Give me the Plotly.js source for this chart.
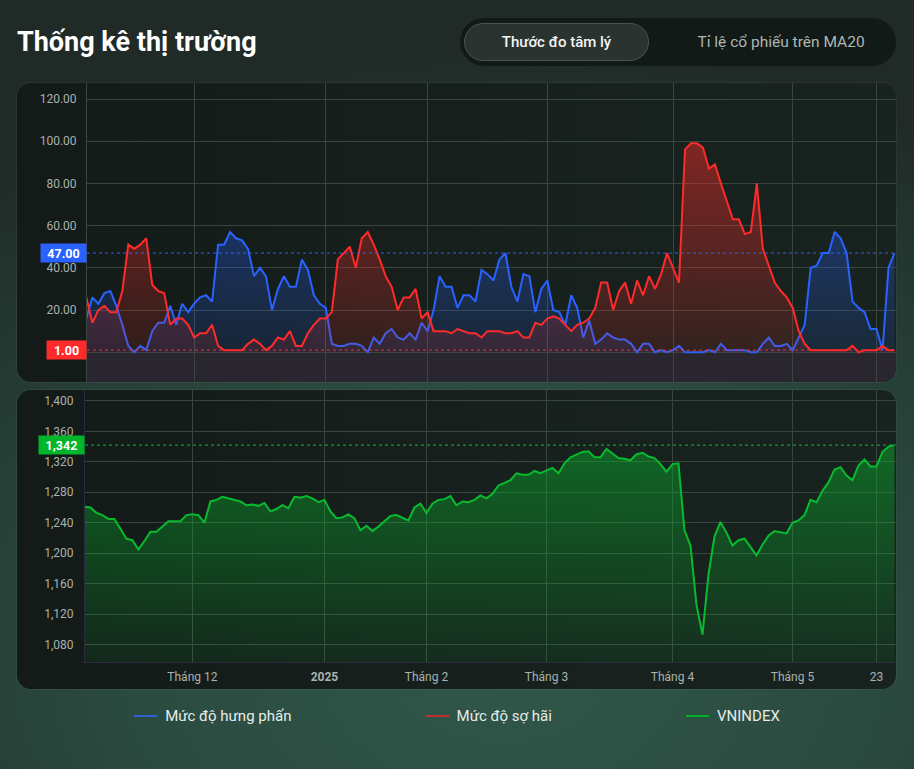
<!DOCTYPE html>
<html>
<head>
<meta charset="utf-8">
<script src="https://cdn.plot.ly/plotly-3.0.1.min.js"></script>
<style>
  html, body { margin:0; padding:0; }
  body {
    width:914px; height:769px; overflow:hidden; position:relative;
    font-family: Roboto, "Noto Sans", sans-serif;
    background: radial-gradient(ellipse 90% 80% at 55% 85%, #30574a 0%, #2b4b40 45%, #243a33 75%, #202a26 100%);
  }
  #title { position:absolute; left:17px; top:26px; font-size:27px; font-weight:700; color:#ffffff; white-space:nowrap; }
  #tabs { position:absolute; left:460px; top:18px; width:436px; height:48px; border-radius:24px; background:#121a17; }
  .tab { position:absolute; top:5px; height:38px; line-height:38px; font-size:15px; text-align:center; border-radius:20px; box-sizing:border-box; white-space:nowrap; }
  #tab1 { left:4px; width:185px; background:#2b3330; border:1px solid #4b5451; color:#f2f5f4; font-weight:500; line-height:36px; }
  #tab2 { left:203px; width:236px; color:#aeb7b3; font-size:15.5px; }
  .panel { position:absolute; left:17px; width:879px; height:299px; border-radius:14px; overflow:hidden;
    background: linear-gradient(90deg, #131a18 0%, #161f1c 40%, #18231f 100%); box-shadow: 0 0 0 1px rgba(255,255,255,0.05); }
  #p1 { top:83px; }
  #p2 { top:390px; }
  #legend { position:absolute; left:0; top:706px; width:914px; height:20px; display:flex; justify-content:space-evenly; align-items:center; }
  .li { display:flex; align-items:center; color:#e6ecea; font-size:15px; }
  .sw { width:23px; height:2px; margin-right:8px; }
</style>
</head>
<body>
<div id="title">Thống kê thị trường</div>
<div id="tabs"><div class="tab" id="tab1">Thước đo tâm lý</div><div class="tab" id="tab2">Tỉ lệ cổ phiếu trên MA20</div></div>
<div class="panel" id="p1"><div id="c1"></div></div>
<div class="panel" id="p2"><div id="c2"></div></div>
<div id="legend">
  <div class="li"><div class="sw" style="background:#2f60d6"></div>Mức độ hưng phấn</div>
  <div class="li"><div class="sw" style="background:#c03030"></div>Mức độ sợ hãi</div>
  <div class="li"><div class="sw" style="background:#00b02c"></div>VNINDEX</div>
</div>
<script>
const dates = [
 '2024-11-06','2024-11-07','2024-11-08','2024-11-11','2024-11-12','2024-11-13','2024-11-14','2024-11-15',
 '2024-11-18','2024-11-19','2024-11-20','2024-11-21','2024-11-22','2024-11-25','2024-11-26','2024-11-27','2024-11-28','2024-11-29',
 '2024-12-02','2024-12-03','2024-12-04','2024-12-05','2024-12-06','2024-12-09','2024-12-10','2024-12-11','2024-12-12','2024-12-13',
 '2024-12-16','2024-12-17','2024-12-18','2024-12-19','2024-12-20','2024-12-23','2024-12-24','2024-12-25','2024-12-26','2024-12-27',
 '2024-12-30','2024-12-31',
 '2025-01-02','2025-01-03','2025-01-06','2025-01-07','2025-01-08','2025-01-09','2025-01-10','2025-01-13','2025-01-14','2025-01-15',
 '2025-01-16','2025-01-17','2025-01-20','2025-01-21','2025-01-22','2025-01-23','2025-01-24',
 '2025-02-03','2025-02-04','2025-02-05','2025-02-06','2025-02-07','2025-02-10','2025-02-11','2025-02-12','2025-02-13','2025-02-14',
 '2025-02-17','2025-02-18','2025-02-19','2025-02-20','2025-02-21','2025-02-24','2025-02-25','2025-02-26','2025-02-27','2025-02-28',
 '2025-03-03','2025-03-04','2025-03-05','2025-03-06','2025-03-07','2025-03-10','2025-03-11','2025-03-12','2025-03-13','2025-03-14',
 '2025-03-17','2025-03-18','2025-03-19','2025-03-20','2025-03-21','2025-03-24','2025-03-25','2025-03-26','2025-03-27','2025-03-28',
 '2025-03-31',
 '2025-04-01','2025-04-02','2025-04-03','2025-04-04','2025-04-08','2025-04-09','2025-04-10','2025-04-11','2025-04-14','2025-04-15',
 '2025-04-16','2025-04-17','2025-04-18','2025-04-21','2025-04-22','2025-04-23','2025-04-24','2025-04-25','2025-04-28','2025-04-29',
 '2025-05-05','2025-05-06','2025-05-07','2025-05-08','2025-05-09','2025-05-12','2025-05-13','2025-05-14','2025-05-15','2025-05-16',
 '2025-05-19','2025-05-20','2025-05-21','2025-05-22','2025-05-23','2025-05-26','2025-05-27','2025-05-28'
];
const euphoria = [
 16,26,23,28,29,22,13,3,0,3,
 1,10,14,14,22,13,23,19,23,26,
 27,24,51,51,57,54,53,49,36,40,
 36,20,30,36,31,31,44,39,27,23,
 21,4,3,3,4,4,3,0,7,4,
 9,11,7,6,9,6,14,10,20,36,
 31,31,21,27,27,24,39,37,34,44,
 47,31,24,37,36,19,30,34,20,19,
 13,27,21,7,15,4,6,9,7,6,
 6,4,0,4,4,0,1,0,1,3,
 0,0,0,0,1,0,4,1,1,1,
 1,0,0,4,7,3,3,4,1,7,
 13,40,41,47,47,57,54,47,24,21,
 19,11,11,1,40,47
];
const fear = [
 26,14,20,22,19,19,29,51,49,51,
 54,32,29,28,13,16,16,13,7,9,
 9,13,3,1,1,1,1,4,6,4,
 1,3,7,6,10,3,3,9,13,16,
 16,19,44,47,50,40,54,57,51,44,
 36,31,20,26,26,30,16,19,10,10,
 10,9,11,10,9,9,7,10,10,10,
 9,9,10,7,7,14,13,16,17,16,
 13,10,13,14,16,21,33,33,20,29,
 33,23,34,27,36,30,37,47,40,33,
 96,99,99,97,87,89,80,72,63,63,
 56,57,80,49,41,33,29,26,21,10,
 4,1,1,1,1,1,1,1,3,0,
 1,1,1,3,1,1
];
const vnindex = [
 1261,1260,1253,1250,1245,1245,1232,1219,1217,1205,
 1216,1228,1228,1235,1242,1242,1242,1250,1251,1250,
 1240,1268,1270,1274,1272,1270,1268,1263,1264,1262,
 1266,1255,1258,1263,1259,1274,1273,1275,1272,1267,
 1270,1255,1246,1247,1251,1246,1230,1236,1229,1235,
 1242,1249,1250,1246,1243,1260,1265,1253,1265,1270,
 1271,1275,1263,1268,1267,1270,1276,1272,1278,1289,
 1293,1296,1305,1303,1303,1308,1305,1309,1312,1305,
 1318,1326,1330,1333,1334,1326,1326,1337,1331,1325,
 1324,1322,1330,1332,1327,1325,1317,1307,1317,1318,
 1230,1210,1132,1093,1172,1222,1241,1227,1210,1217,
 1219,1208,1197,1211,1223,1229,1227,1226,1240,1243,
 1250,1270,1267,1282,1293,1310,1313,1302,1296,1315,
 1323,1314,1314,1333,1340,1342
];
const tickDates = ['2024-12-02','2025-01-02','2025-02-03','2025-03-03','2025-04-01','2025-05-05','2025-05-23'];
const tickLabels = ['Tháng 12','<b>2025</b>','Tháng 2','Tháng 3','Tháng 4','Tháng 5','23'];
const topTicks = [0,20,40,60,80,100,120];
const bottomTicks = [1080,1120,1160,1200,1240,1280,1320,1360,1400];

const BLUE = '#2962ff', RED = '#ff2b2b', GREEN = '#08bb2e';
const GRID = '#39463f', LBL = '#a9b2ae';
const TOP_RANGE = [-14.1, 127.6], BOT_RANGE = [1057, 1414.4];
const XR = [0.1, 135.25];
const lastE = euphoria[euphoria.length-1], lastF = fear[fear.length-1], lastV = vnindex[vnindex.length-1];

const topTraces = [
  { x: dates, y: euphoria, type:'scatter', mode:'lines', name:'Mức độ hưng phấn',
    line:{color:BLUE, width:2}, fill:'tozeroy',
    fillgradient:{type:'vertical', start:TOP_RANGE[0], stop:TOP_RANGE[1],
      colorscale:[[0,'rgba(41,98,255,0.07)'],[1,'rgba(41,98,255,0.55)']]} },
  { x: dates, y: fear, type:'scatter', mode:'lines', name:'Mức độ sợ hãi',
    line:{color:RED, width:2}, fill:'tozeroy',
    fillgradient:{type:'vertical', start:TOP_RANGE[0], stop:TOP_RANGE[1],
      colorscale:[[0,'rgba(255,43,43,0.07)'],[1,'rgba(255,43,43,0.55)']]} }
];
const topLayout = {
  width:879, height:299, margin:{l:70, r:0, t:0, b:0},
  paper_bgcolor:'rgba(0,0,0,0)', plot_bgcolor:'rgba(0,0,0,0)',
  showlegend:false,
  font:{family:'Roboto, sans-serif', color:LBL, size:12},
  xaxis:{type:'category', range:XR, tickvals:tickDates, ticktext:tickLabels, showticklabels:false,
    showgrid:true, gridcolor:GRID, gridwidth:1, zeroline:false, showline:false, fixedrange:true},
  yaxis:{range:TOP_RANGE, tickvals:topTicks, ticktext:topTicks.map(v => v===0 ? '' : v.toFixed(2)),
    showgrid:true, gridcolor:GRID, zeroline:false, showline:true, linecolor:GRID, linewidth:1,
    ticks:'', ticklabelstandoff:7, tickfont:{size:12, color:LBL}, fixedrange:true},
  shapes:[
    {type:'rect', xref:'paper', x0:0, x1:1, yref:'y', y0:TOP_RANGE[0], y1:0, fillcolor:'#29262f', line:{width:0}, layer:'below'},
    {type:'line', xref:'paper', x0:0, x1:1, yref:'y', y0:lastE, y1:lastE, line:{color:BLUE, width:1, dash:'dot'}},
    {type:'line', xref:'paper', x0:0, x1:1, yref:'y', y0:lastF, y1:lastF, line:{color:RED, width:1, dash:'dot'}}
  ],
  annotations:[
    {xref:'paper', x:0, xanchor:'right', yref:'y', y:lastE, yanchor:'middle', text:'<b>'+lastE.toFixed(2)+'</b>', showarrow:false,
      bgcolor:BLUE, font:{color:'#ffffff', size:12.5}, borderpad:2, width:41, height:14},
    {xref:'paper', x:0, xanchor:'right', yref:'y', y:lastF, yanchor:'middle', text:'<b>'+lastF.toFixed(2)+'</b>', showarrow:false,
      bgcolor:RED, font:{color:'#ffffff', size:12.5}, borderpad:2, width:35, height:14}
  ]
};

const botTraces = [
  { x: dates, y: vnindex, type:'scatter', mode:'lines', name:'VNINDEX',
    line:{color:GREEN, width:2}, fill:'tozeroy',
    fillgradient:{type:'vertical', start:BOT_RANGE[0], stop:lastV,
      colorscale:[[0,'rgba(8,187,46,0.08)'],[1,'rgba(8,187,46,0.45)']]} }
];
const botLayout = {
  width:879, height:299, margin:{l:68, r:0, t:0, b:27},
  paper_bgcolor:'rgba(0,0,0,0)', plot_bgcolor:'rgba(0,0,0,0)',
  showlegend:false,
  font:{family:'Roboto, sans-serif', color:LBL, size:12},
  xaxis:{type:'category', range:XR, tickvals:tickDates, ticktext:tickLabels, showticklabels:true,
    tickfont:{size:12, color:LBL}, ticks:'', ticklabelstandoff:4,
    showgrid:true, gridcolor:GRID, zeroline:false, showline:true, linecolor:'#2b2b43', linewidth:1, fixedrange:true},
  yaxis:{range:BOT_RANGE, tickvals:bottomTicks, tickformat:',d',
    showgrid:true, gridcolor:GRID, zeroline:false, showline:true, linecolor:'#2b2b43', linewidth:1,
    ticks:'', ticklabelstandoff:8, tickfont:{size:12, color:LBL}, fixedrange:true},
  shapes:[
    {type:'line', xref:'paper', x0:0, x1:1, yref:'y', y0:lastV, y1:lastV, line:{color:GREEN, width:1, dash:'dot'}}
  ],
  annotations:[
    {xref:'paper', x:0, xanchor:'right', yref:'y', y:lastV, yanchor:'middle', text:'<b>'+lastV.toLocaleString('en-US')+'</b>', showarrow:false,
      bgcolor:'#00b52a', font:{color:'#ffffff', size:12.5}, borderpad:2, width:41, height:14}
  ]
};

Plotly.newPlot('c1', topTraces, topLayout, {displayModeBar:false, staticPlot:true});
Plotly.newPlot('c2', botTraces, botLayout, {displayModeBar:false, staticPlot:true});
</script>
</body>
</html>
